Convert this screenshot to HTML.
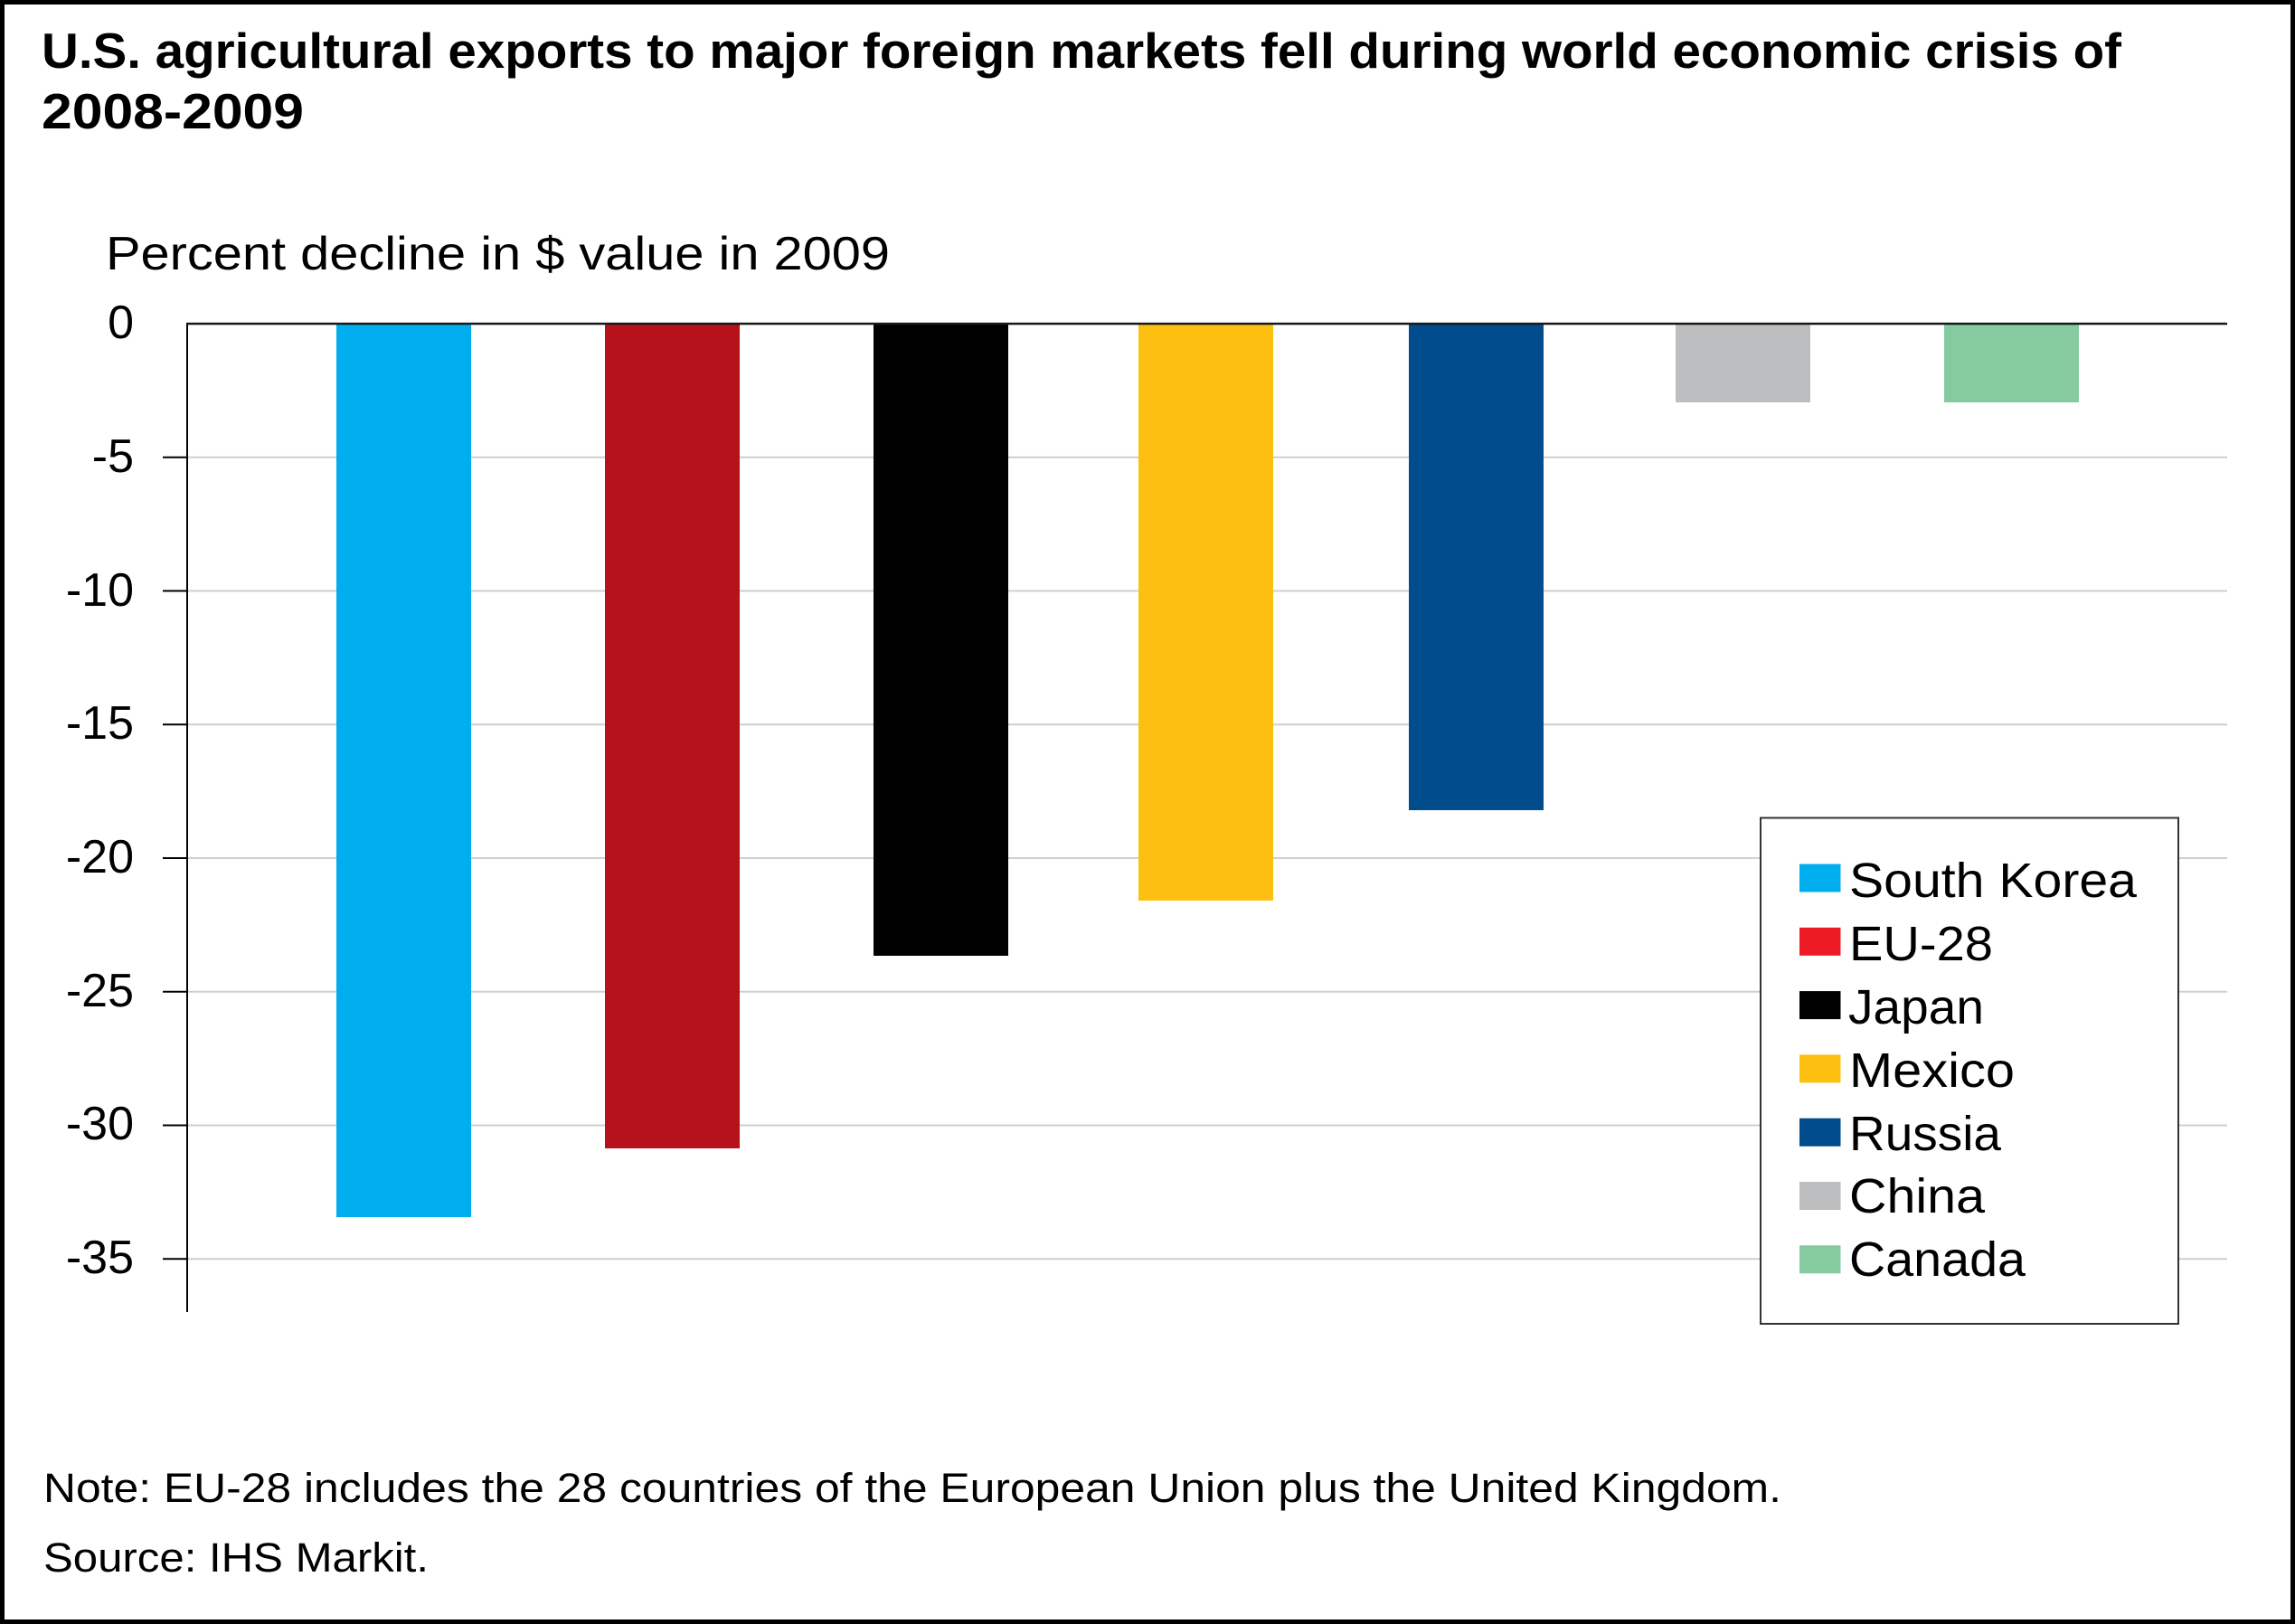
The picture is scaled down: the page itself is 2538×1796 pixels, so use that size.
<!DOCTYPE html>
<html>
<head>
<meta charset="utf-8">
<style>
  html, body { margin: 0; padding: 0; background: #ffffff; }
  svg { display: block; }
  text { font-family: "Liberation Sans", "DejaVu Sans", sans-serif; fill: #000; }
</style>
</head>
<body>
<svg width="2538" height="1796" viewBox="0 0 2538 1796" xmlns="http://www.w3.org/2000/svg">
  <rect x="0" y="0" width="2538" height="1796" fill="#ffffff"/>
  <!-- outer frame -->
  <rect x="2.5" y="2.5" width="2533" height="1791" fill="none" stroke="#000" stroke-width="5"/>

  <!-- title -->
  <text x="46" y="75" font-size="55" font-weight="bold" textLength="2300" lengthAdjust="spacingAndGlyphs">U.S. agricultural exports to major foreign markets fell during world economic crisis of</text>
  <text x="46" y="142" font-size="55" font-weight="bold" textLength="290" lengthAdjust="spacingAndGlyphs">2008-2009</text>

  <!-- subtitle -->
  <text x="117" y="298" font-size="52" textLength="867" lengthAdjust="spacingAndGlyphs">Percent decline in $ value in 2009</text>

  <!-- gridlines -->
  <g stroke="#cfcfcf" stroke-width="2">
    <line x1="208" y1="505.8" x2="2463" y2="505.8"/>
    <line x1="208" y1="653.5" x2="2463" y2="653.5"/>
    <line x1="208" y1="801.3" x2="2463" y2="801.3"/>
    <line x1="208" y1="949.0" x2="2463" y2="949.0"/>
    <line x1="208" y1="1096.8" x2="2463" y2="1096.8"/>
    <line x1="208" y1="1244.5" x2="2463" y2="1244.5"/>
    <line x1="208" y1="1392.3" x2="2463" y2="1392.3"/>
  </g>

  <!-- ticks -->
  <g stroke="#000" stroke-width="2">
    <line x1="180" y1="505.8" x2="207" y2="505.8"/>
    <line x1="180" y1="653.5" x2="207" y2="653.5"/>
    <line x1="180" y1="801.3" x2="207" y2="801.3"/>
    <line x1="180" y1="949.0" x2="207" y2="949.0"/>
    <line x1="180" y1="1096.8" x2="207" y2="1096.8"/>
    <line x1="180" y1="1244.5" x2="207" y2="1244.5"/>
    <line x1="180" y1="1392.3" x2="207" y2="1392.3"/>
  </g>

  <!-- tick labels -->
  <g font-size="52" text-anchor="end">
    <text x="148" y="374">0</text>
    <text x="148" y="522">-5</text>
    <text x="148" y="670">-10</text>
    <text x="148" y="817">-15</text>
    <text x="148" y="965">-20</text>
    <text x="148" y="1113">-25</text>
    <text x="148" y="1260">-30</text>
    <text x="148" y="1408">-35</text>
  </g>

  <!-- bars -->
  <rect x="372" y="359" width="149" height="987" fill="#00AEEF"/>
  <rect x="669" y="359" width="149" height="911" fill="#B5121B"/>
  <rect x="966" y="359" width="149" height="698" fill="#000000"/>
  <rect x="1259" y="359" width="149" height="637" fill="#FDC010"/>
  <rect x="1558" y="359" width="149" height="537" fill="#004C8C"/>
  <rect x="1853" y="359" width="149" height="86" fill="#BCBEC0"/>
  <rect x="2150" y="359" width="149" height="86" fill="#86CBA0"/>

  <!-- axes -->
  <line x1="207" y1="357" x2="207" y2="1451" stroke="#000" stroke-width="2"/>
  <line x1="206" y1="358" x2="2463" y2="358" stroke="#1a1a1a" stroke-width="2.5"/>

  <!-- legend -->
  <rect x="1947" y="904.5" width="462" height="559.5" fill="#ffffff" stroke="#333" stroke-width="2"/>
  <rect x="1990" y="955.5" width="45.5" height="31" fill="#00AEEF"/>
  <rect x="1990" y="1025.8" width="45.5" height="31" fill="#ED1C24"/>
  <rect x="1990" y="1096.1" width="45.5" height="31" fill="#000000"/>
  <rect x="1990" y="1166.4" width="45.5" height="31" fill="#FDC010"/>
  <rect x="1990" y="1236.7" width="45.5" height="31" fill="#004C8C"/>
  <rect x="1990" y="1307.0" width="45.5" height="31" fill="#BCBEC0"/>
  <rect x="1990" y="1377.3" width="45.5" height="31" fill="#86CBA0"/>
  <g font-size="54">
    <text x="2045" y="992" textLength="318" lengthAdjust="spacingAndGlyphs">South Korea</text>
    <text x="2045" y="1062" textLength="159" lengthAdjust="spacingAndGlyphs">EU-28</text>
    <text x="2044" y="1132" textLength="150" lengthAdjust="spacingAndGlyphs">Japan</text>
    <text x="2045" y="1202" textLength="183" lengthAdjust="spacingAndGlyphs">Mexico</text>
    <text x="2045" y="1272" textLength="168" lengthAdjust="spacingAndGlyphs">Russia</text>
    <text x="2045" y="1341" textLength="150" lengthAdjust="spacingAndGlyphs">China</text>
    <text x="2045" y="1411" textLength="195" lengthAdjust="spacingAndGlyphs">Canada</text>
  </g>

  <!-- notes -->
  <text x="48" y="1661" font-size="45" textLength="1922" lengthAdjust="spacingAndGlyphs">Note: EU-28 includes the 28 countries of the European Union plus the United Kingdom.</text>
  <text x="48" y="1738" font-size="45" textLength="426" lengthAdjust="spacingAndGlyphs">Source: IHS Markit.</text>
</svg>
</body>
</html>
